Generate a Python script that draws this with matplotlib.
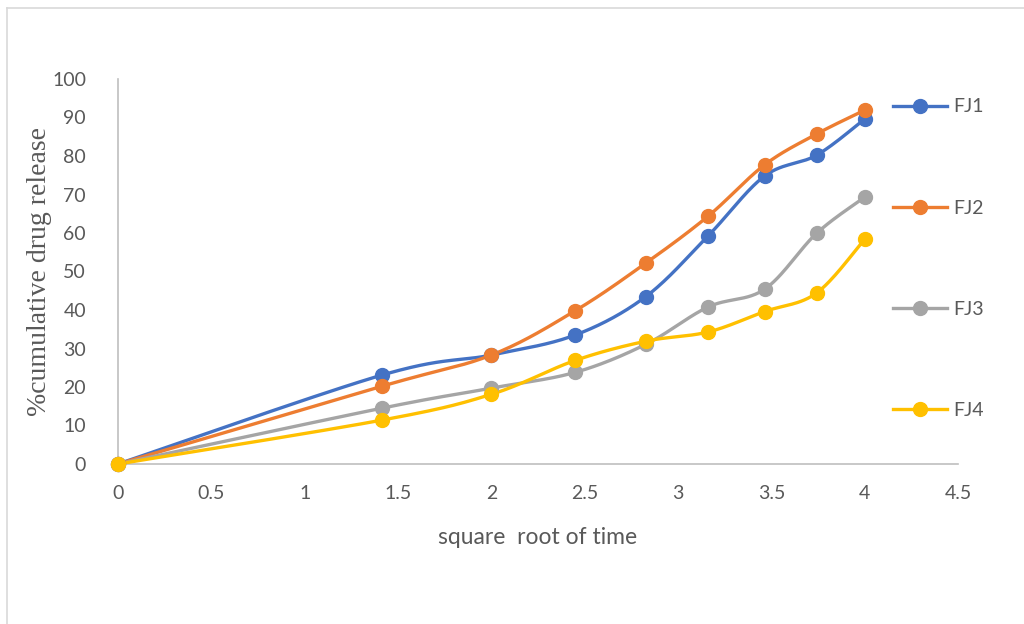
import numpy as np
import matplotlib
matplotlib.use("Agg")
import matplotlib.pyplot as plt
from matplotlib.lines import Line2D

# square root of sampling time (0, 2, 4, ... 16)
sqrt_time = [0, 1.414, 2.0, 2.449, 2.828, 3.162, 3.464, 3.742, 4.0]

fj1 = [0, 23.1, 28.3, 33.5, 43.5, 59.3, 74.8, 80.2, 89.6]
fj2 = [0, 20.2, 28.3, 39.8, 52.2, 64.4, 77.7, 85.7, 91.9]
fj3 = [0, 14.5, 19.7, 23.8, 31.1, 40.8, 45.4, 59.9, 69.3]
fj4 = [0, 11.4, 18.1, 26.9, 31.9, 34.3, 39.6, 44.4, 58.4]

series_names = ["FJ1", "FJ2", "FJ3", "FJ4"]
series_colors = ["#4472C4", "#ED7D31", "#A5A5A5", "#FFC000"]

x_ticks = [0, 0.5, 1, 1.5, 2, 2.5, 3, 3.5, 4, 4.5]
y_ticks = [0, 10, 20, 30, 40, 50, 60, 70, 80, 90, 100]


def smooth(xs, ys, n=30):
    """Bezier smoothing through every point, as in spreadsheet 'smoothed line' charts."""
    p = np.column_stack([xs, ys]).astype(float)
    m = len(p)
    out = [p[0]]
    t = np.linspace(0, 1, n)[1:]
    for i in range(m - 1):
        p0 = p[i - 1] if i > 0 else p[i]
        p1, p2 = p[i], p[i + 1]
        p3 = p[i + 2] if i + 2 < m else p[i + 1]
        c1 = p1 + (p2 - p0) / 6.0
        c2 = p2 - (p3 - p1) / 6.0
        seg = ((1 - t) ** 3)[:, None] * p1 + (3 * (1 - t) ** 2 * t)[:, None] * c1 \
            + (3 * (1 - t) * t ** 2)[:, None] * c2 + (t ** 3)[:, None] * p2
        out.extend(seg)
    out = np.array(out)
    return out[:, 0], out[:, 1]


fig = plt.figure(figsize=(10.24, 6.24), dpi=100)
W, H = 1024, 624
ax = fig.add_axes([118 / W, (H - 464) / H, (958 - 118) / W, (464 - 79) / H])

tick_font = "Lato"
tick_color = "#595959"

for name, ys, col in zip(series_names, [fj1, fj2, fj3, fj4], series_colors):
    sx, sy = smooth(sqrt_time, ys)
    ax.plot(sx, sy, color=col, lw=2.4, solid_capstyle="round", zorder=3)
    ax.plot(sqrt_time, ys, ls="none", marker="o", ms=10, color=col, zorder=4)

ax.set_xlim(0, 4.5)
ax.set_ylim(0, 100)
ax.set_xticks(x_ticks)
ax.set_xticklabels([f"{v:g}" for v in x_ticks])
ax.set_yticks(y_ticks)
ax.set_yticklabels([str(v) for v in y_ticks])
ax.tick_params(length=0, labelsize=14, labelcolor=tick_color)
ax.tick_params(axis="y", pad=23)
ax.tick_params(axis="x", pad=15)
for lab in ax.get_xticklabels() + ax.get_yticklabels():
    lab.set_fontfamily(tick_font)

for s in ["top", "right"]:
    ax.spines[s].set_visible(False)
for s in ["left", "bottom"]:
    ax.spines[s].set_color("#BFBFBF")
    ax.spines[s].set_linewidth(1.2)
for art in ax.lines:
    art.set_clip_on(False)

ax.set_xlabel("square  root of time", fontsize=16.5, color=tick_color,
              fontfamily=tick_font, labelpad=18)
ax.set_ylabel("%cumulative drug release", fontsize=20, color=tick_color,
              fontfamily="Liberation Serif", labelpad=0)

handles = [Line2D([], [], color=c, lw=2.4, marker="o", ms=10) for c in series_colors]
leg = fig.legend(handles, series_names, loc="upper left",
                 bbox_to_anchor=(893 / W, (H - 98.5) / H), frameon=False,
                 prop={"family": tick_font, "size": 14}, labelcolor=tick_color,
                 handlelength=2.8, handletextpad=0.3, labelspacing=4.33,
                 borderaxespad=0, borderpad=0)

# outer chart-area border (top and left edges)
fig.add_artist(Line2D([7 / W, 1.0], [(H - 8) / H, (H - 8) / H],
                      transform=fig.transFigure, color="#D9D9D9", lw=1.2))
fig.add_artist(Line2D([7 / W, 7 / W], [0, (H - 8) / H],
                      transform=fig.transFigure, color="#D9D9D9", lw=1.2))

fig.savefig("out.png", dpi=100)
